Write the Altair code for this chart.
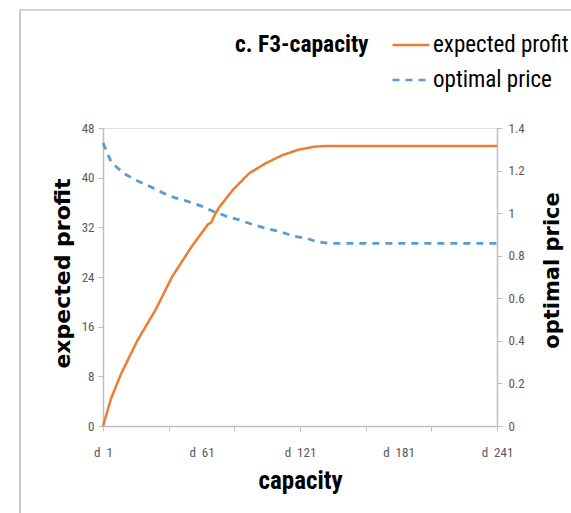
import altair as alt
import pandas as pd

# ---- data ----
profit_capacity = [1, 6, 12, 22, 33, 43, 55, 65, 67, 69, 72, 80, 90, 100, 110, 120, 130, 137, 160, 200, 241]
expected_profit = [0, 4.5, 8.4, 13.8, 18.7, 24.0, 28.9, 32.5, 32.8, 34.0, 35.3, 38.0, 40.7, 42.3, 43.6, 44.5, 45.0, 45.1, 45.1, 45.1, 45.1]

price_capacity = [1, 6, 13, 21, 30, 38, 45, 53, 61, 68, 76, 84, 92, 100, 109, 117, 125, 131, 139, 241]
optimal_price = [1.33, 1.24, 1.19, 1.155, 1.124, 1.093, 1.072, 1.054, 1.033, 1.009, 0.986, 0.968,
                 0.947, 0.929, 0.913, 0.892, 0.882, 0.866, 0.858, 0.858]

series_names = ["expected profit", "optimal price"]
series_colors = ["#ED7D31", "#5B9BD5"]
x_tick_values = [1, 41, 81, 121, 161, 201, 241]
x_label_values = [1, 61, 121, 181, 241]
left_ticks = [0, 8, 16, 24, 32, 40, 48]
right_ticks = [0, 0.2, 0.4, 0.6, 0.8, 1, 1.2, 1.4]
chart_title = "c. F3-capacity"

df_profit = pd.DataFrame({"capacity": profit_capacity, "value": expected_profit, "series": series_names[0]})
df_price = pd.DataFrame({"capacity": price_capacity, "value": optimal_price, "series": series_names[1]})

FONT = "Liberation Sans Narrow, Arial Narrow, Roboto Condensed, Liberation Sans, sans-serif"
VFONT = "DejaVu Sans, Liberation Sans, sans-serif"
GRAY = "#BFBFBF"
LABEL = "#595959"

x_scale = alt.Scale(domain=[1, 241], nice=False, zero=False)
color = alt.Color("series:N",
                  scale=alt.Scale(domain=series_names, range=series_colors),
                  legend=alt.Legend(title=None, orient="none", legendX=288, legendY=-103,
                                    symbolType="stroke", symbolSize=1369, symbolStrokeWidth=2.5,
                                    labelFont=FONT, labelFontSize=23, labelColor="#000000",
                                    labelOffset=2, rowPadding=3, padding=0, labelLimit=300))
dash = alt.StrokeDash("series:N",
                      scale=alt.Scale(domain=series_names, range=[[1, 0], [7, 6]]),
                      legend=alt.Legend(title=None))

profit_line = alt.Chart(df_profit).mark_line(strokeWidth=2.5).encode(
    x=alt.X("capacity:Q", scale=x_scale,
            axis=alt.Axis(values=x_tick_values, labels=False, ticks=True, tickSize=5,
                          tickColor=GRAY, domainColor=GRAY, domainWidth=1.5, grid=False,
                          title=None, orient="bottom")),
    y=alt.Y("value:Q", scale=alt.Scale(domain=[0, 48], nice=False),
            axis=alt.Axis(values=left_ticks, title="expected profit", grid=False,
                          tickColor=GRAY, domainColor=GRAY, domainWidth=1.5, tickSize=5,
                          labelFont=FONT, labelFontSize=13, labelColor=LABEL, labelPadding=4,
                          titleFont=VFONT, titleFontSize=22, titleFontWeight="bold",
                          titleColor="#000000", titlePadding=7, titleAngle=270, titleY=145)),
    color=color,
    strokeDash=dash,
)

price_line = alt.Chart(df_price).mark_line(strokeWidth=2.8).encode(
    x=alt.X("capacity:Q", scale=x_scale,
            axis=alt.Axis(values=x_label_values, ticks=False, domain=False, grid=False,
                          labelExpr="'d\u00a0\u00a0' + datum.value", labelFlush=False,
                          labelOverlap=False,
                          labelFont=FONT, labelFontSize=13, labelColor=LABEL, labelPadding=20,
                          title="capacity", titleFont=FONT, titleFontSize=25,
                          titleFontWeight="bold", titleColor="#000000", titlePadding=9,
                          orient="bottom")),
    y=alt.Y("value:Q", scale=alt.Scale(domain=[0, 1.4], nice=False),
            axis=alt.Axis(values=right_ticks, title="optimal price", orient="right", grid=False,
                          format="~g", tickColor=GRAY, domainColor=GRAY, domainWidth=1.5, tickSize=5,
                          labelFont=FONT, labelFontSize=13, labelColor=LABEL, labelPadding=6,
                          labelFlush=False,
                          titleFont=VFONT, titleFontSize=21, titleFontWeight="bold",
                          titleColor="#000000", titlePadding=38, titleAngle=270, titleY=142)),
    color=color,
    strokeDash=dash,
)

title_mark = alt.Chart(pd.DataFrame({"t": [chart_title]})).mark_text(
    font=FONT, fontSize=23.5, fontWeight="bold", color="#000000", align="left", baseline="middle"
).encode(text="t:N", x=alt.value(132), y=alt.value(-83))

frame_top = alt.Chart(pd.DataFrame({"a": [0]})).mark_rule(color="#A6A6A6", strokeWidth=1.2).encode(
    x=alt.value(-83), x2=alt.value(470), y=alt.value(-118))
frame_left = alt.Chart(pd.DataFrame({"a": [0]})).mark_rule(color="#A6A6A6", strokeWidth=1.2).encode(
    x=alt.value(-83), y=alt.value(-118), y2=alt.value(390))

chart = alt.layer(frame_top, frame_left, title_mark, profit_line, price_line).resolve_scale(
    y="independent"
).resolve_axis(x="independent", y="independent").properties(
    width=394, height=298,
    autosize=alt.AutoSizeParams(type="none"),
    padding={"left": 103, "top": 128, "right": 74, "bottom": 87},
).configure_view(stroke=None).configure(background="#FFFFFF")

chart.save("out.html", embed_options={"renderer": "svg", "actions": False})
